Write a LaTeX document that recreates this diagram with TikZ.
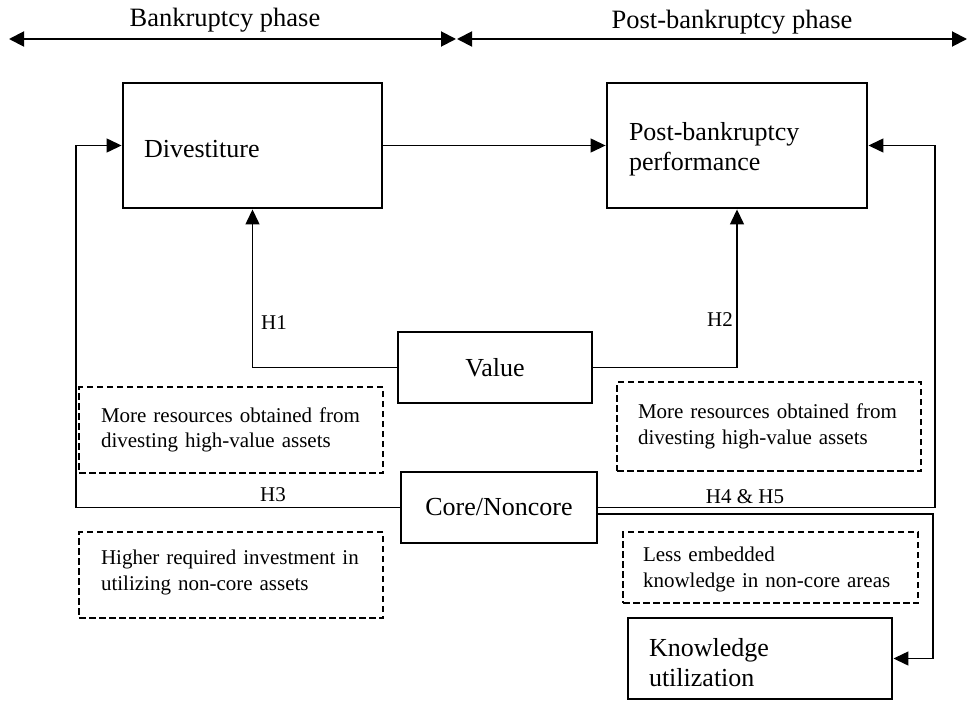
\documentclass[tikz,border=0pt]{standalone}
\usepackage{fontspec}
\setmainfont{Liberation Serif}
\usetikzlibrary{arrows.meta}
\newcommand{\topstrut}[1]{\rule{0pt}{#1}}
\begin{document}
\begin{tikzpicture}[x=1pt,y=-1pt,
  mainbox/.style={draw, line width=2.9pt, font=\fontsize{26}{30}\selectfont, inner ysep=0pt},
  notebox/.style={draw, dash pattern=on 6.5pt off 3.5pt, line width=2.3pt, font=\fontsize{21}{25.5}\selectfont, align=left, inner ysep=0pt},
  conn/.style={line width=1.35pt},
  tipend/.style={-{Triangle[length=15pt,width=14pt]}},
  topline/.style={line width=1.9pt, {Triangle[length=15pt,width=15pt]}-{Triangle[length=15pt,width=15pt]}},
  lbl/.style={font=\fontsize{21}{25}\selectfont, inner sep=0pt},
  phase/.style={font=\fontsize{26.5}{30}\selectfont, inner sep=0pt}]
\useasboundingbox (0,0) rectangle (968,701);

% phase headers
\node[phase] (bp) at (225,20) {Bankruptcy phase};
\node[phase] (pbp) at (732,22) {Post-bankruptcy phase};
\coordinate (a1) at (9,39);
\coordinate (a2) at (456,39);
\coordinate (a3) at (457,39);
\coordinate (a4) at (967,39);
\draw[topline] (a1) -- (a2);
\draw[topline] (a3) -- (a4);

% main boxes
\node[mainbox, text width=217pt, inner xsep=21pt, minimum height=125pt, align=left] (div) at (252.5,145.5) {\topstrut{24pt}Divestiture};
\node[mainbox, text width=216pt, inner xsep=22pt, minimum height=125pt, align=left] (post) at (737,145.5) {\topstrut{26pt}Post-bankruptcy\\performance};
\node[mainbox, minimum width=194pt, minimum height=71pt] (value) at (495,367.5) {Value};
\node[mainbox, minimum width=196pt, minimum height=71pt] (core) at (499,507.5) {Core/Noncore};
\node[mainbox, text width=222pt, inner xsep=21pt, minimum height=81pt, align=left] (know) at (760,658.5) {\topstrut{26pt}Knowledge\\utilization};

% note boxes
\node[notebox, text width=260pt, inner xsep=22pt, minimum height=86pt] (d1) at (231,430) {More resources obtained from\\divesting high-value assets};
\node[notebox, text width=262pt, inner xsep=21pt, minimum height=89pt] (d2) at (769,426.5) {More resources obtained from\\divesting high-value assets};
\node[notebox, text width=260pt, inner xsep=22pt, minimum height=86pt] (d3) at (231,575) {Higher required investment in\\utilizing non-core assets\rule[-10pt]{0pt}{10pt}};
\node[notebox, text width=255pt, inner xsep=20pt, minimum height=71pt] (d4) at (770.5,567.5) {\topstrut{19pt}Less embedded\\knowledge in non-core areas};

% connectors
\draw[conn, tipend] (div.east) -- (post.west);
\draw[conn, tipend] (value.west) -| (div.south);
\draw[conn, tipend] (value.east) -| (post.south);
\coordinate (lft) at (76,507.5);
\coordinate (rgt) at (935,507.5);
\coordinate (rgtb) at (933,514);
\draw[conn, tipend] (core.west) -- (lft) |- (div.west);
\draw[conn, tipend] (core.east) -- (rgt) |- (post.east);
\draw[conn, tipend] ([yshift=-6.5pt]core.east) -- (rgtb) |- (know.east);

% labels
\node[lbl, anchor=west] (h1) at (261,323) {H1};
\node[lbl, anchor=east] (h2) at (733,320) {H2};
\node[lbl] (h3) at (273,495) {H3};
\node[lbl] (h45) at (745,497) {H4 \& H5};
\end{tikzpicture}
\end{document}
